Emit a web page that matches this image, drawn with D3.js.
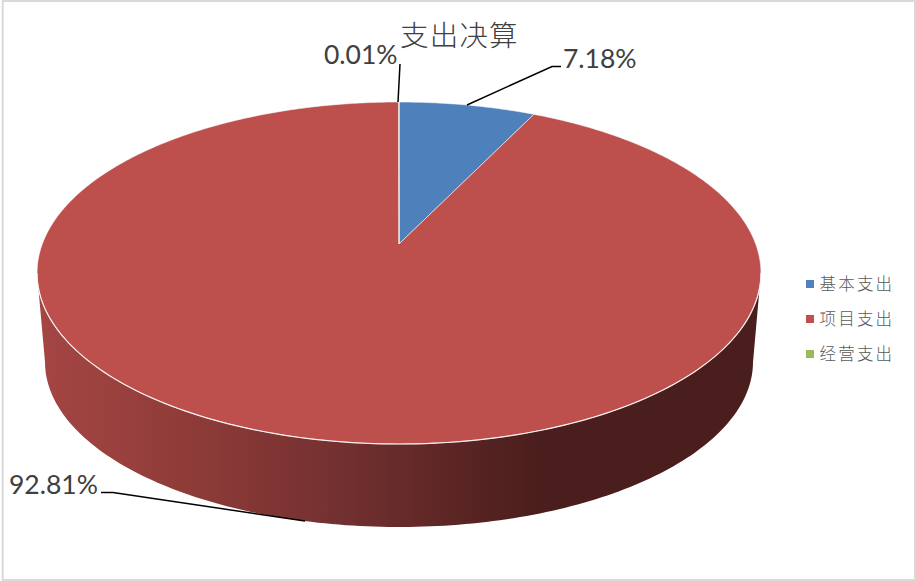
<!DOCTYPE html>
<html>
<head>
<meta charset="utf-8">
<script src="https://cdn.jsdelivr.net/npm/d3@7"></script>
<style>
html, body { margin: 0; padding: 0; background: #fff; }
svg { display: block; }
</style>
</head>
<body>
<div id="chart"></div>
<script>
// Data
const categories = ['基本支出', '项目支出', '经营支出'];
const shares = [7.18, 92.81, 0.01];
const labels = ['7.18%', '92.81%', '0.01%'];
const colors = ['#4F81BD', '#C0504D', '#9BBB59'];
const sliceColors = ['#4E80BB', '#BD4F4C', '#9BBB59'];

const width = 916;
const height = 581;

const svg = d3.select('#chart').append('svg')
    .attr('width', width)
    .attr('height', height);

// Frame
svg.append('rect')
    .attr('x', 2.7).attr('y', 1)
    .attr('width', 912.3).attr('height', 579)
    .attr('fill', '#fff')
    .attr('stroke', '#d9d9d9')
    .attr('stroke-width', 2);

// Tilted pie: circle mapped through a perspective projection
const cx = 399;
const hub = 244;      // where the pie centre lands on screen
const tilt = -0.1696;
const scaleY = 124.7;
const scaleX = 356.7;

function project(angle) {
    const X = Math.sin(angle), Y = -Math.cos(angle);
    const w = 1 + tilt * Y;
    return [cx + scaleX * X / w, (scaleY * Y + hub) / w];
}

// Lower rim of the side wall
const rim = { cy: 362, rx: 354, ry: 165 };

const line = d3.line();

// Side wall
const defs = svg.append('defs');
const grad = defs.append('linearGradient')
    .attr('id', 'side')
    .attr('gradientUnits', 'userSpaceOnUse')
    .attr('x1', 38).attr('x2', 760).attr('y1', 0).attr('y2', 0);
[[0, '#A54643'], [0.22, '#8D3B38'], [0.42, '#733030'], [0.69, '#4A1E1C'], [1, '#4A1E1C']]
    .forEach(d => grad.append('stop').attr('offset', d[0]).attr('stop-color', d[1]));

const frontAngles = d3.range(1.74, 2 * Math.PI - 1.74 + 0.001, 0.02);
const frontEdge = frontAngles.map(project);
const rimPts = d3.range(Math.PI, -0.001, -0.02).map(t =>
    [cx + rim.rx * Math.cos(t), rim.cy + rim.ry * Math.sin(t)]);

svg.append('path')
    .attr('d', line(frontEdge.concat(rimPts)) + 'Z')
    .attr('fill', 'url(#side)');

// Top face slices
const pie = d3.pie().sort(null).value(d => d);
const arcs = pie(shares);

svg.selectAll('.slice')
    .data(arcs)
    .enter()
    .append('path')
    .attr('class', 'slice')
    .attr('d', d => {
        const steps = Math.max(2, Math.ceil((d.endAngle - d.startAngle) / 0.01));
        const pts = d3.range(steps + 1).map(i =>
            project(d.startAngle + (d.endAngle - d.startAngle) * i / steps));
        return line([[cx, hub]].concat(pts)) + 'Z';
    })
    .attr('fill', (d, i) => sliceColors[i])
    .attr('stroke', '#fff')
    .attr('stroke-opacity', 0.55)
    .attr('stroke-width', 1);

// Light bevel along the front edge
svg.append('path')
    .attr('d', line(frontEdge))
    .attr('fill', 'none')
    .attr('stroke', '#fff')
    .attr('stroke-opacity', 0.8)
    .attr('stroke-width', 1.2);

// Leader lines
const leaders = [
    [[467, 105], [552, 66.5], [561, 66.5]],
    [[305, 521], [113, 492.5], [101, 492.5]],
    [[398, 102], [400, 64]]
];
svg.selectAll('.leader')
    .data(leaders)
    .enter()
    .append('path')
    .attr('class', 'leader')
    .attr('d', d => line(d))
    .attr('fill', 'none')
    .attr('stroke', '#000')
    .attr('stroke-width', 1.5);

// Data labels
const labelPos = [[563, 68], [9, 494], [324, 64]];
svg.selectAll('.label')
    .data(labels)
    .enter()
    .append('text')
    .attr('class', 'label')
    .attr('x', (d, i) => labelPos[i][0])
    .attr('y', (d, i) => labelPos[i][1])
    .attr('font-family', 'Lato, sans-serif')
    .attr('font-size', 26.5)
    .attr('fill', '#404040')
    .text(d => d);

// Title
svg.append('text')
    .attr('x', 400)
    .attr('y', 46)
    .attr('font-family', '"Noto Sans CJK SC", sans-serif')
    .attr('font-weight', 300)
    .attr('font-size', 28.5)
    .attr('letter-spacing', 1.2)
    .attr('fill', '#404040')
    .text('支出决算');

// Legend
const legendY = d3.scalePoint()
    .domain(categories)
    .range([284, 354]);

const legend = svg.selectAll('.legend')
    .data(categories)
    .enter()
    .append('g')
    .attr('class', 'legend')
    .attr('transform', d => `translate(806,${legendY(d)})`);

legend.append('rect')
    .attr('x', 0).attr('y', -4)
    .attr('width', 8).attr('height', 8)
    .attr('fill', (d, i) => colors[i]);

legend.append('text')
    .attr('x', 13.5)
    .attr('y', 6)
    .attr('font-family', '"Noto Sans CJK SC", sans-serif')
    .attr('font-weight', 300)
    .attr('font-size', 16.5)
    .attr('letter-spacing', 2.2)
    .attr('fill', '#595959')
    .text(d => d);
</script>
</body>
</html>
